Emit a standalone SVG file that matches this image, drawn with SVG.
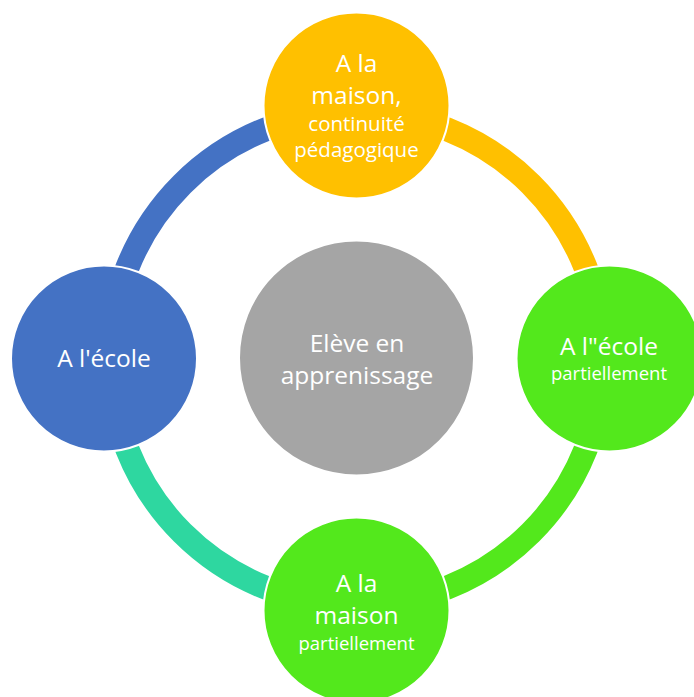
<svg xmlns="http://www.w3.org/2000/svg" width="694" height="697" viewBox="0 0 694 697">
<style>
.arc{fill:none;stroke-width:24;stroke-linecap:butt}
.node{stroke:#ffffff;stroke-width:2}
text{font-family:"Open Sans","Noto Sans","DejaVu Sans",sans-serif;fill:#ffffff;text-anchor:middle}
.lg{font-size:24.5px}
.sm{font-size:20.5px}
.xs{font-size:18.5px}
</style>
<rect width="694" height="697" fill="#ffffff"/>
<g id="connectors">
<path class="arc" stroke="#4472C4" d="M 110 358.5 A 246.5 246.5 0 0 1 356.5 112"/>
<path class="arc" stroke="#FFC000" d="M 356.5 112 A 246.5 246.5 0 0 1 603 358.5"/>
<path class="arc" stroke="#53E81C" d="M 603 358.5 A 246.5 246.5 0 0 1 356.5 605"/>
<path class="arc" stroke="#2ED7A0" d="M 356.5 605 A 246.5 246.5 0 0 1 110 358.5"/>
</g>
<g id="center">
<circle class="node" cx="356.5" cy="358" r="117.5" fill="#A5A5A5"/>
<text class="lg" x="357" y="352">Elève en</text>
<text class="lg" x="357" y="384">apprenissage</text>
</g>
<g id="top">
<circle class="node" cx="356.5" cy="105.5" r="93" fill="#FFC000"/>
<text class="lg" x="356.5" y="72">A la</text>
<text class="lg" x="356.5" y="103.5">maison,</text>
<text class="sm" x="356.5" y="131">continuité</text>
<text class="sm" x="356.5" y="157">pédagogique</text>
</g>
<g id="right">
<circle class="node" cx="609.5" cy="358.5" r="93" fill="#53E81C"/>
<text class="lg" x="609" y="355">A l"école</text>
<text class="xs" x="609" y="380">partiellement</text>
</g>
<g id="bottom">
<circle class="node" cx="356.5" cy="610.5" r="93" fill="#53E81C"/>
<text class="lg" x="356.5" y="592">A la</text>
<text class="lg" x="356.5" y="623.5">maison</text>
<text class="xs" x="356.5" y="650">partiellement</text>
</g>
<g id="left">
<circle class="node" cx="104" cy="358.5" r="93" fill="#4472C4"/>
<text class="lg" x="104" y="367">A l'école</text>
</g>
</svg>
